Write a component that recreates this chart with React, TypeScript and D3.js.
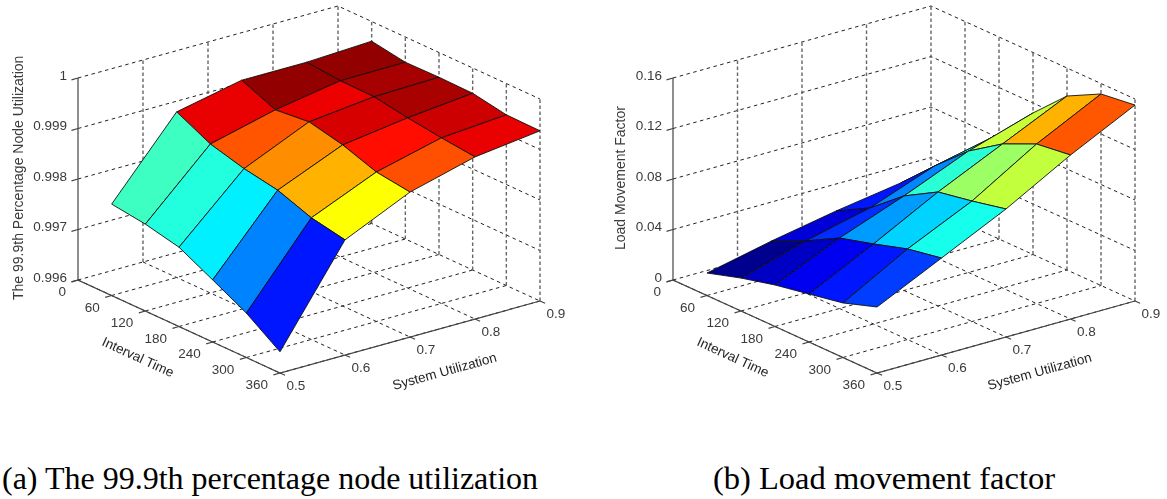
import React from "react";
import * as d3 from "d3";

// axis ticks shared by both plots
const utilTicks = [0.5, 0.6, 0.7, 0.8, 0.9];
const timeTicks = [0, 60, 120, 180, 240, 300, 360];
const timeGrid = [60, 120, 180, 240, 300, 360];

// z values, one row per interval time, columns are utilization
const nodeUtilTicks = [0.996, 0.997, 0.998, 0.999, 1];
const nodeUtilRows = [
  [0.99781, 0.99928, 0.99955, 0.99955, 0.99961],
  [0.99772, 0.99895, 0.99927, 0.99949, 0.9995],
  [0.99757, 0.99877, 0.99934, 0.99948, 0.99951],
  [0.99723, 0.99865, 0.99919, 0.99937, 0.9995],
  [0.99688, 0.99841, 0.99896, 0.99928, 0.99938],
  [0.99642, 0.99828, 0.99887, 0.99921, 0.99937],
];

const loadTicks = [0, 0.04, 0.08, 0.12, 0.16];
const loadRows = [
  [0.0178, 0.0289, 0.0384, 0.0463, 0.0558],
  [0.0261, 0.0412, 0.0531, 0.0721, 0.0832],
  [0.0329, 0.0558, 0.0749, 0.0962, 0.1121],
  [0.038, 0.0634, 0.0903, 0.1141, 0.1378],
  [0.0432, 0.0717, 0.0954, 0.1263, 0.1517],
  [0.0523, 0.0768, 0.1014, 0.1299, 0.1552],
];

// jet colormap
const jet = d3
  .scaleLinear<string>()
  .domain([0, 0.125, 0.375, 0.625, 0.875, 1])
  .range(["#00008f", "#0000ff", "#00ffff", "#ffff00", "#ff0000", "#800000"]);

const textColor = "#3a3a3a";
const sans = "'Liberation Sans', Arial, sans-serif";

type PanelProps = {
  rows: number[][];
  zTicks: number[];
  zFormat: (v: number) => string;
  zTitle: string;
  x0: number;
  y0: number;
  uVec: [number, number];
  tVec: [number, number];
  zHeight: number;
  zTitleX: number;
  zTitleY: number;
  zTitleSize: number;
};

const Panel = (props: PanelProps) => {
  const { rows, zTicks, x0, y0, uVec, tVec, zHeight } = props;

  // oblique projection: each data axis maps to a fraction of its screen vector
  const uScale = d3.scaleLinear().domain([0.5, 0.9]).range([0, 1]);
  const tScale = d3.scaleLinear().domain([0, 360]).range([0, 1]);
  const zScale = d3.scaleLinear().domain([zTicks[0], zTicks[zTicks.length - 1]]).range([0, zHeight]);
  const project = (u: number, t: number, z: number): [number, number] => [
    x0 + uScale(u) * uVec[0] + tScale(t) * tVec[0],
    y0 + uScale(u) * uVec[1] + tScale(t) * tVec[1] - zScale(z),
  ];
  const line = d3.line<[number, number]>();
  const zLo = zTicks[0];
  const zHi = zTicks[zTicks.length - 1];
  const uHi = utilTicks[utilTicks.length - 1];
  const uLo = utilTicks[0];
  const tHi = timeTicks[timeTicks.length - 1];

  const flat = rows.flat();
  const [cMin, cMax] = d3.extent(flat) as [number, number];
  const colorScale = d3.scaleLinear().domain([cMin, cMax]).range([0, 1]);

  // far cells first so nearer ones paint over them
  const cells: { d: string; fill: string }[] = [];
  for (let j = 0; j < rows.length - 1; j++) {
    for (let i = utilTicks.length - 2; i >= 0; i--) {
      const d = line([
        project(utilTicks[i], timeGrid[j], rows[j][i]),
        project(utilTicks[i + 1], timeGrid[j], rows[j][i + 1]),
        project(utilTicks[i + 1], timeGrid[j + 1], rows[j + 1][i + 1]),
        project(utilTicks[i], timeGrid[j + 1], rows[j + 1][i]),
      ]) + "Z";
      cells.push({ d, fill: jet(colorScale(rows[j][i])) });
    }
  }

  const grid: string[] = [];
  const verticals: string[] = [];
  timeTicks.forEach((t) => {
    grid.push(line([project(uLo, t, zLo), project(uHi, t, zLo)])!);
    if (t > 0) verticals.push(line([project(uHi, t, zLo), project(uHi, t, zHi)])!);
  });
  utilTicks.forEach((u) => {
    grid.push(line([project(u, 0, zLo), project(u, tHi, zLo)])!);
    if (u > uLo) verticals.push(line([project(u, 0, zLo), project(u, 0, zHi)])!);
  });
  zTicks.forEach((z) => {
    if (z === zLo) return;
    grid.push(line([project(uLo, 0, z), project(uHi, 0, z), project(uHi, tHi, z)])!);
  });

  const tickLen = 0.025;
  const corner = project(uLo, tHi, zLo);
  const start = project(uLo, 0, zLo);
  const end = project(uHi, tHi, zLo);

  return (
    <g filter="url(#soft)">
      <g fill="none">
        {grid.map((d, i) => (
          <path key={i} d={d} stroke="#222" strokeWidth={1} strokeDasharray="3.5 3.5" />
        ))}
        {verticals.map((d, i) => (
          <path key={i} d={d} stroke="#666" strokeWidth={1.4} strokeDasharray="3.5 2.5" />
        ))}
      </g>

      {/* axes */}
      <g fill="none" stroke="#444" strokeWidth={1.2}>
        <path d={line([project(uLo, 0, zHi), start, corner, end])!} />
        {zTicks.map((z) => {
          const p = project(uLo, 0, z);
          return <path key={z} d={line([p, [p[0] - uVec[0] * tickLen, p[1] - uVec[1] * tickLen]])!} />;
        })}
        {timeTicks.map((t) => {
          const p = project(uLo, t, zLo);
          return <path key={t} d={line([p, [p[0] - uVec[0] * tickLen, p[1] - uVec[1] * tickLen]])!} />;
        })}
        {utilTicks.map((u) => {
          const p = project(u, tHi, zLo);
          return <path key={u} d={line([p, [p[0] + tVec[0] * tickLen, p[1] + tVec[1] * tickLen]])!} />;
        })}
      </g>

      {/* surface */}
      <g stroke="#111" strokeWidth={0.9} strokeLinejoin="round">
        {cells.map((c, i) => (
          <path key={i} d={c.d} fill={c.fill} />
        ))}
      </g>

      {/* tick labels */}
      <g fontFamily={sans} fontSize={13.5} fill={textColor}>
        {zTicks.map((z) => {
          const p = project(uLo, 0, z);
          return (
            <text key={z} x={p[0] - 11} y={p[1] + 1.5} textAnchor="end">
              {props.zFormat(z)}
            </text>
          );
        })}
        {timeTicks.map((t) => {
          const p = project(uLo, t, zLo);
          return (
            <text key={t} x={p[0] - 12} y={p[1] + 16} textAnchor="end">
              {t}
            </text>
          );
        })}
        {utilTicks.map((u) => {
          const p = project(u, tHi, zLo);
          return (
            <text key={u} x={p[0] + 6.5} y={p[1] + 17}>
              {u.toFixed(1)}
            </text>
          );
        })}
        <text
          transform={`translate(${x0 + 23},${y0 + 65}) rotate(24.7)`}
          fontSize={13.5}
          fill="#222"
        >
          Interval Time
        </text>
        <text
          transform={`translate(${x0 + 316},${y0 + 110}) rotate(-15.5)`}
          fontSize={13.5}
          fill="#222"
        >
          System Utilization
        </text>
        <text
          transform={`translate(${props.zTitleX},${props.zTitleY}) rotate(-90)`}
          fontSize={props.zTitleSize}
        >
          {props.zTitle}
        </text>
      </g>
    </g>
  );
};

const App = () => {
  return (
    <svg
      width={1167}
      height={499}
      style={{ position: "absolute", left: 0, top: 0, background: "#fff" }}
    >
      <defs>
        <filter id="soft" x="-5%" y="-5%" width="110%" height="110%">
          <feGaussianBlur stdDeviation="0.35" />
        </filter>
      </defs>
      <Panel
        rows={nodeUtilRows}
        zTicks={nodeUtilTicks}
        zFormat={(v) => (v === 1 ? "1" : v.toFixed(3))}
        zTitle="The 99.9th Percentage Node Utilization"
        x0={78}
        y0={280}
        uVec={[260, -72]}
        tVec={[202, 93]}
        zHeight={202}
        zTitleX={23}
        zTitleY={300}
        zTitleSize={14}
      />
      <Panel
        rows={loadRows}
        zTicks={loadTicks}
        zFormat={(v) => (v === 0 ? "0" : String(v))}
        zTitle="Load Movement Factor"
        x0={673}
        y0={280}
        uVec={[258, -72]}
        tVec={[204, 93]}
        zHeight={202}
        zTitleX={625}
        zTitleY={250}
        zTitleSize={14}
      />
      <g fontFamily="'Liberation Serif', 'Times New Roman', serif" fontSize={32} fill="#000">
        <text x={2} y={489}>(a) The 99.9th percentage node utilization</text>
        <text x={713} y={489} fontSize={32.5}>(b) Load movement factor</text>
      </g>
    </svg>
  );
};

export default App;
